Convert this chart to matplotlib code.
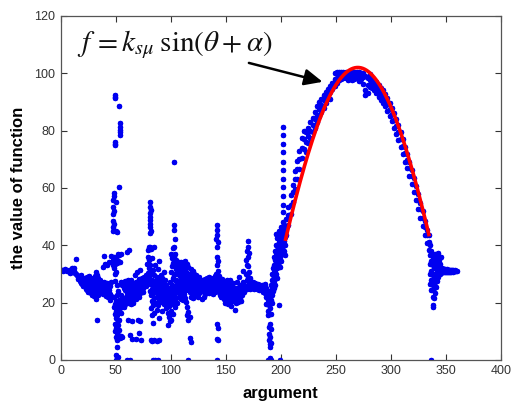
import numpy as np
import matplotlib
matplotlib.use("Agg")
import matplotlib.pyplot as plt

# ---------------- data ----------------
start_x = [0, 1, 2, 3, 4, 5, 6, 7, 8, 9, 10, 11, 12, 13, 14, 15, 8, 10, 12, 14]
start_y = [31.2, 31.5, 31.0, 31.3, 31.6, 31.2, 30.9, 31.4, 31.1, 30.8, 31.6, 30.6,
           30.9, 30.2, 29.8, 29.5, 30.4, 32.0, 31.9, 35.2]

bandA_x = list(range(16, 47))
bandA_y = [[29.0, 28.2], [28.5, 27.5], [27.8, 26.9, 29.6], [27.2, 26.5],
           [28.0, 26.8, 25.9], [27.4, 26.2], [26.8, 25.6, 28.4], [27.0, 24.8, 26.0],
           [26.2, 24.2, 28.8], [27.5, 25.0, 23.6], [26.6, 24.4, 29.2], [25.8, 23.2, 27.9],
           [27.2, 24.6, 22.6], [26.0, 28.6, 23.8], [25.2, 22.2, 27.6], [29.4, 26.4, 24.0],
           [30.6, 27.8, 23.0, 21.4], [29.6, 26.0, 14.0], [28.4, 25.0, 22.8], [27.0, 24.2],
           [25.8, 23.4, 27.8], [26.4, 24.6], [25.4, 32.5, 23.0], [27.2, 24.8, 36.4],
           [26.0, 23.8, 33.4], [25.2, 22.4], [26.8, 24.4, 33.0], [25.0, 22.0],
           [24.2, 26.4, 34.0], [23.0, 20.8, 25.6], [22.4, 27.0, 36.2]]

spike_x = [47, 48, 49, 50, 51, 52, 53, 54, 55, 56]
spike_y = [[55.8, 53.4, 51.0, 48.6, 46.5, 45.0, 34.8, 33.0],
           [58.2, 57.0, 52.0, 47.5, 36.0, 34.0, 32.0, 22.0, 18.5],
           [92.4, 91.8, 91.2, 76.1, 75.3, 74.8, 33.5, 30.0, 27.5, 19.5, 16.0, 12.5, 10.0],
           [55.0, 45.0, 35.5, 30.5, 20.5, 17.0, 14.5, 11.0, 8.0, 1.8, 0.0],
           [44.5, 33.8, 26.0, 22.5, 18.0, 15.5, 13.0, 9.5, 7.0, 4.5],
           [37.0, 34.5, 24.0, 19.0, 16.5, 12.0, 8.5, 7.5, 1.0],
           [88.4, 60.4, 36.6, 21.0, 17.5, 14.0, 10.5, 8.0],
           [82.6, 81.4, 80.2, 79.4, 78.5, 34.0, 20.0, 7.5],
           [37.0, 27.0, 22.5, 19.0, 16.5, 8.2],
           [26.0, 21.5, 18.5, 8.0]]

bandB_x = list(range(57, 81))
bandB_y = [[25.0, 21.0, 18.5], [24.2, 19.6, 27.5], [22.0, 20.2, 26.0], [23.5, 19.8, 37.5, 0.0],
           [24.6, 21.0, 28.0, 14.0], [22.6, 20.0, 26.4, 38.4], [25.5, 21.6, 8.5, 0.0],
           [23.8, 19.4, 27.8], [24.8, 21.2, 13.6, 7.2], [26.4, 22.6, 19.8], [25.2, 23.0, 29.6],
           [27.0, 24.0, 21.4, 7.2], [25.6, 22.4, 30.5], [26.8, 23.6, 13.8],
           [28.2, 24.8, 21.8, 9.2], [26.0, 23.2, 31.2, 13.4], [27.6, 25.0, 7.0],
           [26.2, 24.0, 28.6], [27.4, 25.2, 23.6], [28.8, 26.0], [27.2, 25.8, 29.6],
           [28.0, 26.4, 33.5], [38.4, 36.0, 30.2, 27.4], [39.4, 35.0, 32.0, 28.6]]

bandC_x = list(range(81, 141))
bandC_y = [[55.2, 53.5, 51.3, 50.0, 48.8, 47.4, 46.4, 44.3, 39.4, 33.0, 30.0, 26.5, 24.0],
           [52.4, 45.0, 38.6, 31.0, 27.0, 22.5, 18.0, 7.0],
           [35.5, 28.0, 24.8, 20.5, 15.5, 6.5],
           [31.5, 26.8, 23.2, 19.0, 13.0, 0.0],
           [39.4, 29.6, 25.6, 21.6, 16.2, 7.0],
           [33.0, 27.4, 24.2, 20.0, 0.0],
           [29.0, 25.4, 22.0, 17.4, 6.6],
           [31.6, 26.2, 23.0, 19.2, 0.0],
           [34.6, 28.0, 24.4, 21.0, 14.6, 6.8],
           [27.2, 23.8, 20.6, 25.6],
           [25.0, 22.2, 29.6],
           [28.4, 24.4, 20.2, 17.0],
           [26.6, 23.2, 21.8],
           [25.4, 22.6, 19.6, 30.5],
           [24.0, 21.2, 27.8],
           [23.6, 20.4, 18.2, 26.0],
           [22.4, 19.8, 16.4, 12.0],
           [25.2, 21.6, 18.8, 14.8],
           [27.0, 23.4, 20.0, 16.2, 13.6],
           [37.0, 30.8, 24.8, 21.0, 17.2, 14.0],
           [35.6, 32.6, 26.2, 22.8, 19.4],
           [39.0, 33.8, 28.4, 24.0, 20.4, 16.0],
           [69.2, 47.0, 45.3, 39.4, 36.0, 30.0, 25.6, 22.0],
           [42.0, 37.0, 33.6, 27.8, 23.2, 18.6],
           [35.0, 31.6, 28.0, 25.0, 21.6],
           [33.2, 30.0, 26.6, 23.6, 20.0],
           [34.0, 31.0, 27.4, 24.6, 22.0],
           [32.6, 29.4, 26.4, 23.6],
           [34.2, 30.4, 27.6, 24.8, 21.2],
           [31.8, 28.6, 25.6, 22.6],
           [33.8, 30.0, 27.0, 24.0, 20.8],
           [32.0, 29.0, 26.2, 23.0],
           [34.4, 31.0, 27.8, 24.6, 21.6],
           [30.6, 27.4, 24.4, 20.2],
           [33.6, 28.8, 25.8, 18.4, 15.6],
           [32.4, 29.6, 26.6, 16.8, 14.0, 0.0],
           [30.0, 27.0, 23.8, 15.0, 7.6],
           [31.8, 28.2, 25.0, 22.0, 6.4],
           [29.4, 26.6, 23.6],
           [31.0, 27.8, 24.8, 21.6],
           [29.8, 26.4, 23.2],
           [28.4, 25.6, 22.4],
           [29.6, 26.8, 24.0],
           [28.0, 25.4, 22.6],
           [27.2, 24.6, 21.8],
           [28.8, 26.0, 23.4],
           [27.6, 25.2],
           [26.4, 24.2, 21.4],
           [27.8, 25.0],
           [26.6, 23.8, 22.0],
           [25.6, 23.0, 28.2],
           [26.8, 24.4],
           [25.4, 23.6, 28.6],
           [27.0, 24.8],
           [26.2, 23.4, 29.0],
           [25.2, 27.6],
           [26.6, 24.2],
           [25.8, 23.0, 28.4],
           [27.2, 24.6],
           [26.0, 29.4, 23.6]]

bandD_x = list(range(141, 205))
bandD_y = [[42.0, 30.0, 27.4, 25.0],
           [47.0, 45.3, 43.6, 39.5, 36.0, 33.0, 28.6, 25.8, 12.4, 7.4, 0.0],
           [41.0, 34.6, 31.0, 27.0, 24.0, 11.2, 6.8],
           [29.4, 26.6, 23.8], [28.0, 25.4, 22.6], [26.8, 24.4, 21.8], [25.6, 23.2, 28.2],
           [27.0, 24.6, 21.4], [25.4, 22.8, 20.0], [26.6, 24.0, 21.2], [25.2, 22.6, 27.8],
           [24.4, 21.8, 19.6], [26.0, 23.4, 20.6], [24.8, 22.2, 28.0], [23.6, 21.2, 18.8],
           [25.6, 22.8, 20.4], [24.2, 21.6, 26.8], [23.4, 20.8, 17.4], [25.0, 22.6, 19.8],
           [24.0, 21.4, 27.2], [23.0, 20.2], [25.4, 22.8, 29.0], [24.4, 21.6],
           [26.0, 23.6, 20.6], [25.2, 22.8], [27.0, 24.4, 31.0], [26.0, 23.6],
           [35.0, 30.0, 25.4], [38.0, 33.0, 28.0, 24.8],
           [41.3, 39.4, 36.0, 32.6, 29.0, 26.0], [37.4, 30.6, 27.4, 25.0],
           [28.6, 26.2, 24.6], [27.0, 25.4], [26.4, 25.0], [27.2, 25.8], [26.0, 24.8],
           [26.8, 25.4], [25.8, 24.6], [26.4, 25.2], [25.6, 24.4], [26.2, 25.0],
           [25.4, 24.2], [26.0, 24.8], [25.2, 23.8], [25.8, 24.6], [24.8, 23.4, 26.4],
           [25.0, 22.0, 19.5],
           [24.0, 21.0, 17.0, 15.5, 0.0],
           [23.0, 19.0, 11.6, 9.0, 7.0, 0.0],
           [22.0, 18.0, 12.5, 8.0, 5.5, 4.6, 0.6],
           [26.0, 24.0, 21.0, 16.0, 10.6, 6.0, 0.0],
           [30.0, 28.0, 25.0, 22.5, 20.0],
           [32.0, 29.5, 27.0, 24.0],
           [36.0, 33.0, 30.5, 27.5, 25.0],
           [38.0, 35.0, 31.5, 28.5, 26.0],
           [44.0, 40.0, 36.5, 33.5, 30.0],
           [42.5, 38.5, 35.5, 32.0, 28.5],
           [45.0, 41.0, 37.5, 34.0, 19.0],
           [43.5, 39.5, 36.0, 32.5, 0.0],
           [46.5, 42.0, 38.0, 34.5],
           [44.0, 40.5, 37.0],
           [81.4, 78.6, 75.2, 72.4, 69.0, 66.2, 63.0, 60.4, 57.2, 54.0, 51.6, 48.2,
            45.4, 42.0, 39.6],
           [47.0, 44.0, 41.5, 38.0],
           [45.5, 43.0, 40.0, 36.6]]

arch_x = list(range(205, 337, 2))
arch_y = [[46.0, 43.5, 49.0], [50.5, 47.0, 53.5], [54.0, 51.0, 57.5], [58.5, 55.0, 61.0],
          [63.0, 59.5, 66.0], [66.5, 63.0, 69.5], [70.0, 66.5, 73.0], [74.0, 70.5, 77.5],
          [77.0, 73.5, 80.0], [79.5, 76.0, 72.5], [81.0, 78.0, 75.5], [83.0, 80.0, 77.5],
          [84.5, 82.0, 79.5], [86.5, 84.0, 81.0], [88.5, 85.5, 83.0], [90.0, 87.5, 85.0],
          [91.0, 89.0, 86.5], [92.5, 90.5, 88.0], [93.5, 91.5, 89.5], [94.5, 92.5],
          [95.5, 93.5, 91.0], [96.5, 94.5], [98.0, 95.5, 100.0], [98.5, 96.5, 100.4],
          [99.0, 97.5, 100.5], [99.5, 98.0, 100.6], [99.4, 98.2, 100.4], [99.6, 98.4, 100.5],
          [99.2, 97.8, 100.6], [99.8, 98.4, 100.2], [99.0, 97.6, 100.4], [99.4, 98.0, 100.6],
          [99.6, 98.2, 100.3], [99.0, 97.4, 100.5], [99.4, 98.0, 100.2], [98.6, 96.4, 100.0],
          [99.0, 94.0, 92.4], [98.4, 96.0, 93.0], [97.8, 95.2, 99.6], [97.0, 95.0, 98.4],
          [96.4, 94.0, 97.8], [95.2, 93.0, 97.0], [94.0, 91.8, 96.0], [93.2, 90.5, 95.0],
          [92.0, 89.6, 94.0], [90.8, 88.4, 92.8], [89.2, 86.8, 91.4], [87.6, 85.0, 89.6],
          [85.8, 83.2, 88.0], [83.8, 81.0, 86.0], [81.6, 78.8, 84.0], [79.4, 76.6, 81.8],
          [77.0, 74.2, 79.4], [74.6, 71.8, 77.0], [72.2, 69.2, 74.4], [69.6, 66.8, 71.8],
          [67.0, 64.0, 69.2], [64.2, 61.2, 66.4], [61.4, 58.4, 63.6], [58.6, 55.6, 60.8],
          [55.6, 52.6, 57.8], [52.6, 49.6, 54.8], [49.6, 46.6, 51.8], [46.4, 43.6, 48.6],
          [43.4, 40.6, 45.4], [41.0, 38.2, 43.6]]

tail_x = list(range(336, 361))
tail_y = [[40.0, 36.5, 33.5, 30.0, 26.5], [38.0, 34.5, 31.0, 28.0, 24.5, 0.0],
          [36.0, 33.0, 29.5, 26.0, 22.0, 19.0, 18.6], [35.0, 32.0, 28.5, 25.0, 21.5],
          [37.0, 33.5, 30.0, 27.0, 23.3], [35.5, 32.0, 28.5, 25.5], [36.5, 33.0, 30.5, 27.5],
          [37.3, 34.0, 31.0, 29.0], [35.0, 32.0, 30.0], [33.5, 31.5, 30.0],
          [36.0, 31.8, 30.4], [32.0, 30.6], [31.6, 30.8], [31.8, 30.6], [31.4, 30.8],
          [31.6, 30.6], [31.2, 30.8], [31.5, 30.6], [31.2, 30.8], [31.4, 30.7],
          [31.2, 30.9], [31.3, 30.8], [31.2, 30.9], [31.1], [31.0]]

# fitted curve f = k * sin(theta + alpha), theta in degrees
fit_k = 102.0
fit_alpha = -180.0
fit_theta_range = (204.0, 335.0)

formula_text = r'$f\,=k_{s\mu}\;\mathrm{sin}(\theta+\alpha)$'
x_ticks = [0, 50, 100, 150, 200, 250, 300, 350, 400]
y_ticks = [0, 20, 40, 60, 80, 100, 120]

# ---------------- flatten ----------------
xs = list(start_x)
ys = list(start_y)
for cx, cy in [(bandA_x, bandA_y), (spike_x, spike_y), (bandB_x, bandB_y),
               (bandC_x, bandC_y), (bandD_x, bandD_y), (arch_x, arch_y),
               (tail_x, tail_y)]:
    for x, col in zip(cx, cy):
        for y in col:
            xs.append(x)
            ys.append(y)

# ---------------- plot ----------------
plt.rcParams['font.family'] = ['Liberation Sans', 'DejaVu Sans']
plt.rcParams['mathtext.fontset'] = 'stix'

fig = plt.figure(figsize=(5.11, 4.08), dpi=100)
ax = fig.add_axes([0.119, 0.118, 0.861, 0.843])

ax.plot(xs, ys, linestyle='none', marker=(8, 2, 0), markersize=3.8,
        markeredgewidth=1.1, color='#0000f0', zorder=2)

theta = np.linspace(fit_theta_range[0], fit_theta_range[1], 300)
ax.plot(theta, fit_k * np.sin(np.deg2rad(theta + fit_alpha)), color='red', lw=2.6,
        zorder=3, solid_capstyle='butt')

ax.set_xlim(0, 400)
ax.set_ylim(0, 120)
ax.set_xticks(x_ticks)
ax.set_yticks(y_ticks)
ax.tick_params(direction='in', top=True, right=True, length=4, width=0.8,
               labelsize=9, colors='#333333', labelcolor='#333333', pad=4)
for s in ax.spines.values():
    s.set_color('#555555')
    s.set_linewidth(0.9)

ax.set_xlabel('argument', fontsize=12, fontweight='bold', labelpad=6)
ax.set_ylabel('the value of function', fontsize=12, fontweight='bold', labelpad=6)

ax.text(15, 110, formula_text, fontsize=21, ha='left', va='center', color='#111111')
ax.annotate('', xy=(238, 97), xytext=(171, 103.6),
            arrowprops=dict(arrowstyle='-|>,head_length=1.1,head_width=0.5',
                            color='black', lw=1.8, shrinkA=0, shrinkB=0))

fig.savefig('out.png', dpi=100)
